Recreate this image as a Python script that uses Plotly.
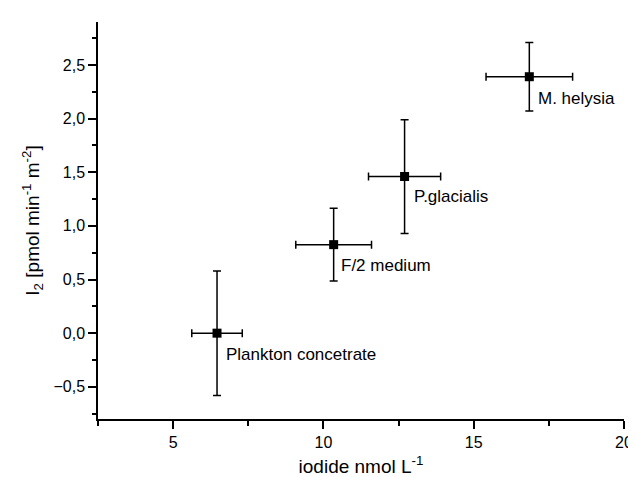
import plotly.graph_objects as go

# Data
names = ["Plankton concetrate", "F/2 medium", "P.glacialis", "M. helysia"]
iodide = [6.46, 10.34, 12.70, 16.85]
iodide_err = [0.84, 1.26, 1.20, 1.44]
i2 = [0.0, 0.825, 1.46, 2.39]
i2_err = [0.58, 0.34, 0.53, 0.32]
label_x = [6.70, 10.51, 12.95, 17.08]
label_y = [-0.195, 0.633, 1.274, 2.19]

x_ticks = [5, 10, 15, 20]
y_ticks = [-0.5, 0.0, 0.5, 1.0, 1.5, 2.0, 2.5]

FONT = "Liberation Sans, Arial, sans-serif"

fig = go.Figure()
fig.add_trace(go.Scatter(
    x=iodide, y=i2, mode="markers",
    marker=dict(symbol="square", size=9, color="black"),
    error_x=dict(type="data", array=iodide_err, visible=True, color="black", thickness=1.5, width=4),
    error_y=dict(type="data", array=i2_err, visible=True, color="black", thickness=1.5, width=4),
    showlegend=False, hoverinfo="skip",
))

for t, lx, ly in zip(names, label_x, label_y):
    fig.add_annotation(x=lx, y=ly, text=t, showarrow=False, xanchor="left", yanchor="middle",
                       font=dict(family=FONT, size=17, color="black"))

axis_common = dict(
    showgrid=False, zeroline=False, showline=True, linecolor="black", linewidth=1.5,
    ticks="outside", ticklen=8, tickwidth=1.5, tickcolor="black",
    tickfont=dict(family=FONT, size=16, color="black"),
    ticklabeloverflow="allow",
)

fig.update_xaxes(range=[2.5, 20], tickvals=x_ticks, ticktext=[str(v) for v in x_ticks],
                 minor=dict(dtick=2.5, tick0=0, ticks="outside", ticklen=5, tickwidth=1.5, tickcolor="black"),
                 title=dict(text="iodide nmol L<sup>-1</sup>", font=dict(family=FONT, size=19, color="black"), standoff=10),
                 **axis_common)
fig.update_yaxes(range=[-0.8, 2.9], tickvals=y_ticks, tickformat=".1f",
                 minor=dict(dtick=0.25, tick0=0, ticks="outside", ticklen=4, tickwidth=1.5, tickcolor="black"),
                 title=dict(text="I<sub>2</sub> [pmol min<sup>-1</sup> m<sup>-2</sup>]", font=dict(family=FONT, size=19, color="black"), standoff=9),
                 **axis_common)

fig.update_layout(
    width=636, height=477,
    margin=dict(l=90, r=11, t=14, b=65),
    plot_bgcolor="white", paper_bgcolor="white",
    separators=", ",
    font=dict(family=FONT, color="black"),
)

fig.write_html("out.html")
